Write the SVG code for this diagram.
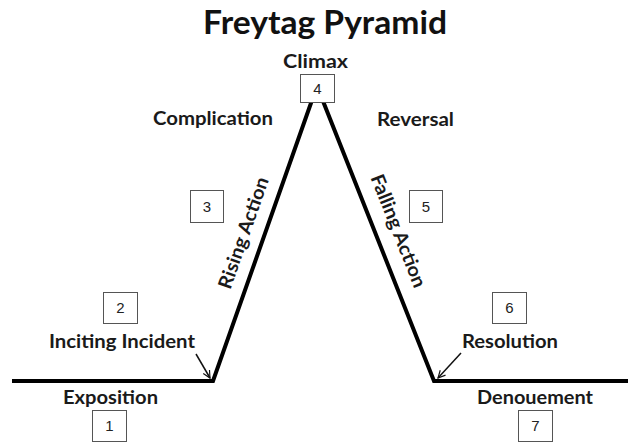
<svg xmlns="http://www.w3.org/2000/svg" width="628" height="443" viewBox="0 0 628 443">
<style>
.lbl{font-family:Lato,"Liberation Sans",Arial,sans-serif;font-weight:bold;font-size:19px;fill:#1a1a1a;text-anchor:middle}
.title{font-family:Lato,"Liberation Sans",Arial,sans-serif;font-weight:bold;font-size:33px;fill:#111;text-anchor:middle}
.box{fill:#fff;stroke:#555;stroke-width:1}
.num{font-family:"Liberation Sans",Arial,sans-serif;font-size:15px;fill:#222;text-anchor:middle}
.thick{fill:none;stroke:#000;stroke-width:4;stroke-linejoin:miter}
.arr{fill:none;stroke:#111;stroke-width:1.5}
</style>
<defs>
<marker id="ah" viewBox="0 0 10 10" refX="9" refY="5" markerWidth="9" markerHeight="9" markerUnits="userSpaceOnUse" orient="auto">
<path d="M1,1 L9,5 L1,9" fill="none" stroke="#111" stroke-width="1.3"/>
</marker>
</defs>
<rect width="628" height="443" fill="#fff"/>
<text class="title" x="325" y="34" textLength="244" lengthAdjust="spacingAndGlyphs">Freytag Pyramid</text>
<g id="connectors">
<polyline class="thick" points="12,381 213,381 317,86 434,381 628,381"/>
<line class="arr" x1="196" y1="354" x2="210" y2="378" marker-end="url(#ah)"/>
<line class="arr" x1="461" y1="353" x2="438" y2="378" marker-end="url(#ah)"/>
</g>
<g id="n1">
<rect class="box" x="92.5" y="410.5" width="34" height="31"/>
<text class="num" x="109.5" y="431">1</text>
<text class="lbl" x="110.5" y="404" textLength="95" lengthAdjust="spacingAndGlyphs">Exposition</text>
</g>
<g id="n2">
<rect class="box" x="103.5" y="292.5" width="34" height="31"/>
<text class="num" x="120.5" y="313">2</text>
<text class="lbl" x="122" y="348" textLength="146" lengthAdjust="spacingAndGlyphs">Inciting Incident</text>
</g>
<g id="n3">
<rect class="box" x="190.5" y="190.5" width="33" height="32"/>
<text class="num" x="207" y="211.5">3</text>
<text class="lbl" x="213" y="125" textLength="120" lengthAdjust="spacingAndGlyphs">Complication</text>
<text class="lbl" transform="translate(244,233) rotate(-70.6)" x="0" y="6" textLength="117" lengthAdjust="spacingAndGlyphs">Rising Action</text>
</g>
<g id="n4">
<rect class="box" x="300.5" y="74.5" width="34" height="28"/>
<text class="num" x="317.5" y="94">4</text>
<text class="lbl" x="315.5" y="68" textLength="65" lengthAdjust="spacingAndGlyphs">Climax</text>
</g>
<g id="n5">
<rect class="box" x="409.5" y="190.5" width="33" height="32"/>
<text class="num" x="426" y="211.5">5</text>
<text class="lbl" x="415.5" y="126" textLength="77" lengthAdjust="spacingAndGlyphs">Reversal</text>
<text class="lbl" transform="translate(398,231) rotate(68.4)" x="0" y="6" textLength="120" lengthAdjust="spacingAndGlyphs">Falling Action</text>
</g>
<g id="n6">
<rect class="box" x="492.5" y="292.5" width="34" height="31"/>
<text class="num" x="509.5" y="313">6</text>
<text class="lbl" x="510" y="348" textLength="96" lengthAdjust="spacingAndGlyphs">Resolution</text>
</g>
<g id="n7">
<rect class="box" x="518.5" y="410.5" width="34" height="31"/>
<text class="num" x="535.5" y="431">7</text>
<text class="lbl" x="535" y="404" textLength="116" lengthAdjust="spacingAndGlyphs">Denouement</text>
</g>
</svg>
